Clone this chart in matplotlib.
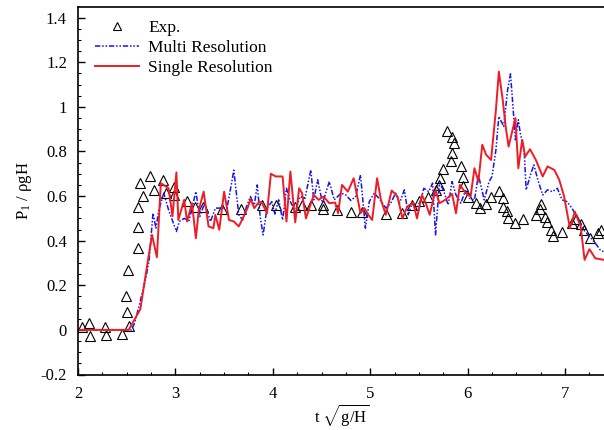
"""Pressure history P1 at the wall: experiment vs single / multi resolution."""
from __future__ import annotations

import matplotlib

matplotlib.use("Agg")
import matplotlib.pyplot as plt


EXP_T = [
    2.04, 2.11, 2.12, 2.28, 2.29, 2.455, 2.52, 2.50, 2.49, 2.51, 2.62, 2.62,
    2.62, 2.64, 2.67, 2.74, 2.78, 2.87, 2.90, 2.99, 2.99, 3.12, 3.20, 3.28,
    3.48, 3.67, 3.89, 4.03, 4.23, 4.30, 4.39, 4.51, 4.51, 4.66, 4.80, 4.92,
    5.16, 5.33, 5.43, 5.50, 5.59, 5.67, 5.71, 5.72, 5.75, 5.79, 5.84, 5.86,
    5.84, 5.83, 5.93, 5.95, 5.95, 6.00, 6.09, 6.13, 6.19, 6.24, 6.32, 6.36,
    6.36, 6.40, 6.41, 6.49, 6.57, 6.75, 6.74, 6.70, 6.79, 6.81, 6.86, 6.88,
    6.97, 7.07, 7.11, 7.16, 7.19, 7.26, 7.34, 7.37,
]
EXP_P = [
    0.015, 0.03, -0.027, 0.015, -0.022, -0.02, 0.018, 0.078, 0.154, 0.27,
    0.366, 0.46, 0.553, 0.658, 0.60, 0.69, 0.625, 0.67, 0.613, 0.64, 0.605,
    0.58, 0.553, 0.55, 0.54, 0.54, 0.56, 0.56, 0.553, 0.56, 0.56, 0.56, 0.54,
    0.536, 0.527, 0.53, 0.52, 0.523, 0.56, 0.58, 0.598, 0.628, 0.65, 0.68,
    0.722, 0.894, 0.867, 0.837, 0.792, 0.759, 0.737, 0.685, 0.643, 0.598,
    0.568, 0.545, 0.565, 0.598, 0.623, 0.59, 0.553, 0.531, 0.50, 0.478,
    0.496, 0.565, 0.541, 0.516, 0.508, 0.482, 0.449, 0.419, 0.441, 0.478,
    0.496, 0.474, 0.449, 0.414, 0.436, 0.449,
]

MULTI_T = [
    2.0, 2.55, 2.58, 2.63, 2.70, 2.73, 2.77, 2.80, 2.83, 2.88, 2.93, 3.01,
    3.04, 3.09, 3.14, 3.21, 3.25, 3.30, 3.36, 3.41, 3.47, 3.53, 3.60, 3.65,
    3.69, 3.73, 3.77, 3.81, 3.84, 3.87, 3.90, 3.94, 3.99, 4.02, 4.06, 4.10,
    4.14, 4.18, 4.23, 4.28, 4.33, 4.39, 4.42, 4.46, 4.51, 4.58, 4.63, 4.70,
    4.75, 4.80, 4.85, 4.90, 4.93, 4.95, 4.99, 5.04, 5.09, 5.16, 5.21, 5.26,
    5.30, 5.35, 5.39, 5.43, 5.47, 5.52, 5.55, 5.60, 5.64, 5.67, 5.71, 5.75,
    5.80, 5.84, 5.88, 5.93, 5.98, 6.02, 6.07, 6.11, 6.17, 6.22, 6.25, 6.29,
    6.32, 6.37, 6.41, 6.44, 6.47, 6.49, 6.52, 6.54, 6.58, 6.60, 6.65, 6.68,
    6.72, 6.77, 6.82, 6.87, 6.92, 6.97, 7.02, 7.07, 7.14, 7.19, 7.25, 7.31,
    7.36, 7.40,
]
MULTI_P = [
    0.0, 0.0, 0.03, 0.112, 0.24, 0.314, 0.523, 0.456, 0.538, 0.613, 0.538,
    0.441, 0.486, 0.50, 0.49, 0.62, 0.508, 0.568, 0.486, 0.546, 0.546, 0.546,
    0.716, 0.516, 0.493, 0.553, 0.598, 0.56, 0.65, 0.508, 0.426, 0.546,
    0.575, 0.52, 0.583, 0.493, 0.635, 0.575, 0.531, 0.598, 0.59, 0.717,
    0.583, 0.673, 0.568, 0.665, 0.583, 0.613, 0.605, 0.58, 0.598, 0.695,
    0.553, 0.456, 0.575, 0.613, 0.59, 0.546, 0.568, 0.613, 0.568, 0.628,
    0.516, 0.568, 0.54, 0.583, 0.635, 0.62, 0.658, 0.426, 0.658, 0.628,
    0.56, 0.665, 0.605, 0.568, 0.628, 0.59, 0.583, 0.695, 0.583, 0.665,
    0.688, 0.807, 0.957, 0.912, 1.076, 1.148, 0.971, 0.852, 0.942, 0.882,
    0.807, 0.628, 0.703, 0.74, 0.673, 0.605, 0.628, 0.62, 0.635, 0.583,
    0.575, 0.546, 0.493, 0.449, 0.419, 0.389, 0.359, 0.35,
]

SINGLE_T = [
    2.0, 2.52, 2.64, 2.71, 2.76, 2.81, 2.85, 2.93, 2.97, 3.01, 3.03, 3.09,
    3.12, 3.17, 3.21, 3.24, 3.29, 3.34, 3.39, 3.41, 3.45, 3.50, 3.55, 3.60,
    3.65, 3.68, 3.74, 3.77, 3.81, 3.86, 3.89, 3.94, 3.98, 4.03, 4.10, 4.14,
    4.18, 4.23, 4.27, 4.30, 4.34, 4.42, 4.47, 4.52, 4.58, 4.64, 4.67, 4.71,
    4.77, 4.83, 4.87, 4.90, 4.94, 4.98, 5.02, 5.07, 5.11, 5.16, 5.22, 5.28,
    5.33, 5.38, 5.44, 5.48, 5.53, 5.57, 5.61, 5.67, 5.71, 5.77, 5.84, 5.88,
    5.92, 5.98, 6.03, 6.07, 6.11, 6.15, 6.19, 6.24, 6.29, 6.32, 6.36, 6.39,
    6.42, 6.49, 6.52, 6.56, 6.59, 6.64, 6.70, 6.77, 6.82, 6.89, 6.94, 6.99,
    7.05, 7.10, 7.16, 7.20, 7.25, 7.31, 7.40,
]
SINGLE_P = [
    0.0, 0.0, 0.093, 0.29, 0.426, 0.326, 0.658, 0.635, 0.51, 0.706, 0.493,
    0.583, 0.486, 0.568, 0.411, 0.538, 0.62, 0.464, 0.456, 0.516, 0.449,
    0.62, 0.493, 0.486, 0.464, 0.49, 0.546, 0.586, 0.546, 0.575, 0.568,
    0.523, 0.70, 0.688, 0.688, 0.486, 0.71, 0.482, 0.635, 0.613, 0.50,
    0.605, 0.583, 0.598, 0.568, 0.571, 0.523, 0.65, 0.62, 0.68, 0.59, 0.523,
    0.546, 0.516, 0.493, 0.68, 0.583, 0.516, 0.625, 0.598, 0.50, 0.553,
    0.571, 0.50, 0.605, 0.568, 0.516, 0.628, 0.568, 0.583, 0.61, 0.523,
    0.65, 0.613, 0.598, 0.725, 0.665, 0.83, 0.785, 0.762, 0.987, 1.158,
    1.031, 0.912, 0.822, 0.95, 0.725, 0.852, 0.777, 0.81, 0.762, 0.688,
    0.733, 0.717, 0.673, 0.598, 0.456, 0.53, 0.464, 0.314, 0.362, 0.321,
    0.314,
]

X_TICKS = [2, 3, 4, 5, 6, 7]
Y_TICKS = [-0.2, 0, 0.2, 0.4, 0.6, 0.8, 1, 1.2, 1.4]
Y_TICK_LABELS = ["-0.2", "0", "0.2", "0.4", "0.6", "0.8", "1", "1.2", "1.4"]


def main() -> None:
    plt.rcParams["font.family"] = "Liberation Serif"
    plt.rcParams["mathtext.fontset"] = "custom"
    plt.rcParams["mathtext.rm"] = "Liberation Serif"
    plt.rcParams["mathtext.it"] = "Liberation Serif:italic"

    fig = plt.figure(figsize=(6.04, 4.30), dpi=100)
    # axes run slightly past the right edge of the picture, as in the source
    ax = fig.add_axes([78 / 604, 55.5 / 430, 528 / 604, 368 / 430])

    ax.plot(EXP_T, EXP_P, linestyle="none", marker="^", markersize=6.5,
            markerfacecolor="none", markeredgecolor="black",
            markeredgewidth=0.8, label="Exp.")
    ax.plot(MULTI_T, MULTI_P, color="#1515e6", linewidth=1.1,
            dashes=[3.5, 1.2, 1.0, 1.2, 1.0, 1.2], label="Multi Resolution")
    ax.plot(SINGLE_T, SINGLE_P, color="#ee1c24", linewidth=1.4,
            label="Single Resolution")

    ax.set_xlim(2, 7.42)
    ax.set_ylim(-0.2, 1.45)
    ax.set_xticks(X_TICKS)
    ax.set_yticks(Y_TICKS, Y_TICK_LABELS)
    ax.set_xticks([2 + 0.25 * i for i in range(22)], minor=True)
    ax.set_yticks([-0.2 + 0.05 * i for i in range(33)], minor=True)
    ax.tick_params(which="both", direction="in", labelsize=12,
                   top=False, right=False)
    ax.tick_params(which="major", length=5, width=1, pad=8)
    ax.tick_params(which="minor", length=2.5, width=0.8)
    ax.spines["right"].set_visible(False)
    for side in ["left", "bottom", "top"]:
        ax.spines[side].set_linewidth(1.2)

    ax.set_xlabel(r"t $\sqrt{\mathrm{g/H}}$", fontsize=12, labelpad=1)
    ax.set_ylabel(r"P$_{1}$ / ρgH", fontsize=12, labelpad=5)

    legend = ax.legend(loc="upper left", frameon=False, fontsize=12.5,
                       handlelength=2.5, handletextpad=0.55, labelspacing=0.22,
                       bbox_to_anchor=(0.01, 0.997), borderaxespad=0.3)
    legend.legend_handles[0].set_markersize(5.5)

    fig.savefig("out.png", dpi=100)
    plt.close(fig)


if __name__ == "__main__":
    main()
